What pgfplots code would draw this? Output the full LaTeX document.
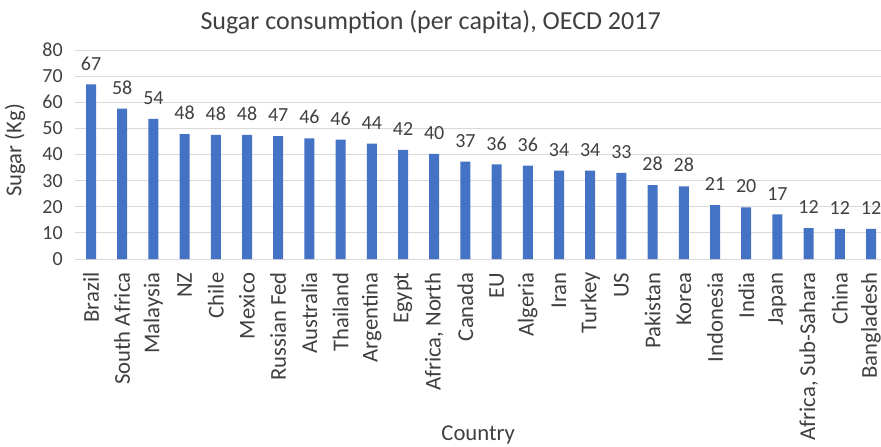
\documentclass[border=0pt]{standalone}
\usepackage{pgfplots}
\pgfplotsset{compat=1.18}
\usepackage{pgfplotstable}
\usepackage{fontspec}
\setmainfont{Carlito}
\definecolor{barblue}{RGB}{68,114,196}
\definecolor{gridgray}{RGB}{217,217,217}
\definecolor{txtgray}{RGB}{64,64,64}
\pgfplotstableread{
x y lab
0 66.8 67
1 57.6 58
2 53.6 54
3 47.8 48
4 47.5 48
5 47.5 48
6 47.0 47
7 46.2 46
8 45.7 46
9 44.2 44
10 41.8 42
11 40.2 40
12 37.3 37
13 36.2 36
14 35.7 36
15 33.8 34
16 33.8 34
17 33.0 33
18 28.3 28
19 27.8 28
20 20.6 21
21 19.8 20
22 17.1 17
23 11.8 12
24 11.5 12
25 11.5 12
}\sugar
\begin{document}
\begin{tikzpicture}
\begin{axis}[
  at={(56.55pt,140.25pt)}, anchor=south west,
  scale only axis, width=604.2pt, height=156.75pt,
  xmin=-0.5, xmax=25.32, ymin=0, ymax=80,
  ytick={0,10,...,80},
  xtick={0,...,25},
  xticklabels={Brazil,South Africa,Malaysia,NZ,Chile,Mexico,Russian Fed,Australia,Thailand,Argentina,Egypt,{Africa, North},Canada,EU,Algeria,Iran,Turkey,US,Pakistan,Korea,Indonesia,India,Japan,{Africa, Sub-Sahara},China,Bangladesh},
  axis x line*=bottom, axis y line*=left,
  x axis line style={draw=gridgray, line width=0.75pt, -},
  y axis line style={draw=none},
  ymajorgrids, grid style={draw=gridgray, line width=0.75pt},
  major tick length=0pt,
  /pgf/number format/assume math mode=true,
  ticklabel style={font=\fontsize{15}{18}\selectfont, text=txtgray},
  yticklabel style={inner sep=0pt},
  yticklabel shift=9.3pt,
  xticklabel style={rotate=90, anchor=east, inner sep=0pt, font=\fontsize{17}{20}\selectfont},
  xticklabel shift=10pt,
  xlabel={Country}, ylabel={Sugar (Kg)},
  label style={font=\fontsize{17}{20}\selectfont, text=txtgray},
  xlabel style={at={(axis description cs:0.5,-0.842)}, anchor=center},
  ylabel style={at={(axis description cs:-0.075,0.52)}, anchor=center, rotate=0},
  ybar, bar width=7.5pt,
  point meta=explicit symbolic,
  nodes near coords,
  nodes near coords style={font=\fontsize{15}{18}\selectfont, text=txtgray, anchor=south, inner sep=0pt, yshift=10.5pt},
]
\addplot[fill=barblue, draw=none] table[x=x, y=y, meta=lab] {\sugar};
\end{axis}
\node[anchor=base, font=\fontsize{19.5}{23}\selectfont, text=txtgray] at (323pt,312pt) {Sugar consumption (per capita), OECD 2017};
\pgfresetboundingbox
\path[use as bounding box] (0,0) rectangle (660.75pt,334.5pt);
\end{tikzpicture}
\end{document}
